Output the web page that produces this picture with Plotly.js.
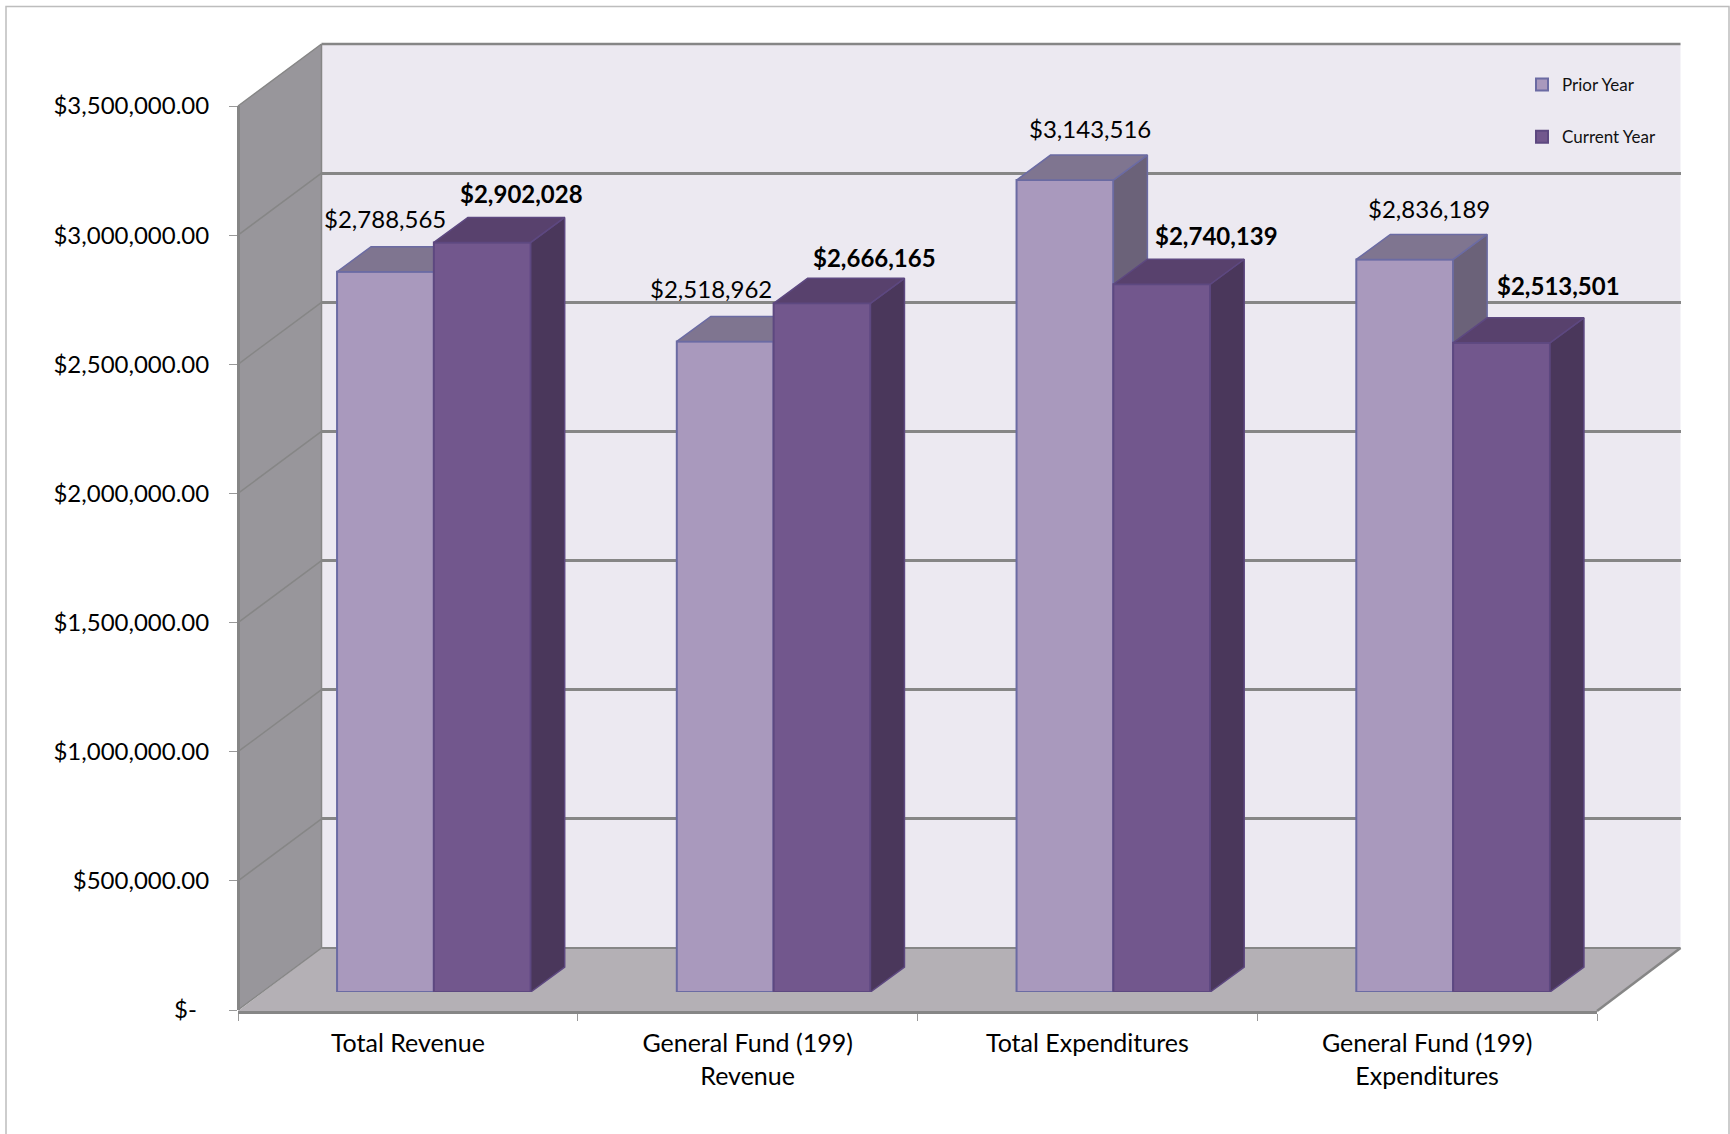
<!DOCTYPE html>
<html>
<head>
<meta charset="utf-8">
<script src="https://cdn.plot.ly/plotly-3.0.1.min.js"></script>
<style>html,body{margin:0;padding:0;background:#fff;overflow:hidden}#chart{width:1730px;height:1134px}</style>
</head>
<body>
<div id="chart"></div>
<script>
// ---- data ----
const categories = ["Total Revenue", "General Fund (199)<br>Revenue", "Total Expenditures", "General Fund (199)<br>Expenditures"];
const priorYear = [2788565, 2518962, 3143516, 2836189];
const currentYear = [2902028, 2666165, 2740139, 2513501];
const seriesNames = ["Prior Year", "Current Year"];
const axisValues = [0, 500000, 1000000, 1500000, 2000000, 2500000, 3000000, 3500000];
const axisLabels = ["$-\u00A0\u00A0", "$500,000.00", "$1,000,000.00", "$1,500,000.00", "$2,000,000.00", "$2,500,000.00", "$3,000,000.00", "$3,500,000.00"];

// ---- label nudges in px (dx, dy above the bar front top) ----
const priorNudgeX = [0, -14.5, 25, 24];
const priorNudgeY = [53, 53, 52, 50.5];
const currentNudgeX = [39, 52, 55, 56.5];
const currentNudgeY = [49, 46, 49, 57];

// ---- page geometry in px ----
const W = 1730, H = 1134;
const fx = p => p / W, fy = p => 1 - p / H;
const YMAX = 3500000;
const FRONT = {l: 238, r: 1597, b: 1010, t: 106};
const DEPTH = {x: 83.5, y: 62};
const BACK = {l: FRONT.l + DEPTH.x, r: FRONT.r + DEPTH.x, b: FRONT.b - DEPTH.y, t: FRONT.t - DEPTH.y};
const BAR = {l: 264, r: 1623, b: 992, t: 88};
const barW = 0.285;                 // category units
const faceDX = 34 / (BAR.r - BAR.l) * 4;   // bar depth in category units
const faceDY = 25 / (BAR.b - BAR.t) * YMAX; // bar depth in value units

const COL = {
  wall: "#98969b", back: "#ece9f1", floor: "#b4b0b5", grid: "#868686", frame: "#bdbdbd", text: "#000000",
  prior: "#a999bd", priorLine: "#6b6ba3", priorTop: "#7f7590", priorSide: "#6b6279",
  cur: "#72578d", curLine: "#5d4880", curTop: "#58416d", curSide: "#4a375b"
};

function dom(a, b) { return [a / W, b / W]; }
function domY(bottom, top) { return [1 - bottom / H, 1 - top / H]; }

function facePolys(values, xLeft) {
  const top = {x: [], y: []}, side = {x: [], y: []};
  values.forEach((v, i) => {
    const l = i + xLeft, r = l + barW;
    top.x.push(l, r, r + faceDX, l + faceDX, l, null);
    top.y.push(v, v, v + faceDY, v + faceDY, v, null);
    side.x.push(r, r + faceDX, r + faceDX, r, r, null);
    side.y.push(0, faceDY, v + faceDY, v, 0, null);
  });
  return {top, side};
}
function faceTrace(poly, color, line, xa, ya) {
  return {type: "scatter", mode: "lines", x: poly.x, y: poly.y, xaxis: xa, yaxis: ya, fill: "toself",
    fillcolor: color, line: {color: line, width: 1.5}, hoverinfo: "skip", showlegend: false};
}
const idx = categories.map((c, i) => i);
const pf = facePolys(priorYear, -barW), cf = facePolys(currentYear, 0);

const traces = [
  // axis carriers: back wall, front axes
  {type: "scatter", mode: "markers", x: [0], y: [0], xaxis: "x", yaxis: "y", marker: {opacity: 0}, hoverinfo: "skip", showlegend: false},
  {type: "scatter", mode: "markers", x: categories, y: categories.map(() => 0), xaxis: "x2", yaxis: "y2", marker: {opacity: 0}, hoverinfo: "skip", showlegend: false},
  // prior year
  {type: "bar", name: seriesNames[0], x: idx, y: priorYear, width: barW, offset: -barW, xaxis: "x3", yaxis: "y3",
    marker: {color: COL.prior, line: {color: COL.priorLine, width: 2}}, legendgroup: "a"},
  faceTrace(pf.side, COL.priorSide, COL.priorLine, "x3", "y3"),
  faceTrace(pf.top, COL.priorTop, COL.priorLine, "x3", "y3"),
  // current year
  {type: "bar", name: seriesNames[1], x: idx, y: currentYear, width: barW, offset: 0, xaxis: "x4", yaxis: "y4",
    marker: {color: COL.cur, line: {color: COL.curLine, width: 2}}, legendgroup: "b"},
  faceTrace(cf.side, COL.curSide, COL.curLine, "x4", "y4"),
  faceTrace(cf.top, COL.curTop, COL.curLine, "x4", "y4")
];

// paper-space decorations: frame, side wall, floor, wall grid
const shapes = [];
function poly(pts, fill, line, w) {
  const path = pts.map((p, i) => (i ? "L" : "M") + fx(p[0]) + "," + fy(p[1])).join(" ") + " Z";
  shapes.push({type: "path", xref: "paper", yref: "paper", layer: "below", path, fillcolor: fill, line: {color: line, width: w}});
}
function seg(a, b, color, w) {
  shapes.push({type: "line", xref: "paper", yref: "paper", layer: "below", x0: fx(a[0]), y0: fy(a[1]), x1: fx(b[0]), y1: fy(b[1]), line: {color, width: w}});
}
shapes.push({type: "rect", xref: "paper", yref: "paper", layer: "below", x0: fx(6), x1: fx(1729), y0: fy(6.5), y1: fy(1140), fillcolor: "#ffffff", line: {color: COL.frame, width: 1.5}});
poly([[BACK.l, BACK.b], [BACK.r, BACK.b], [BACK.r, BACK.t], [BACK.l, BACK.t]], COL.back, COL.back, 0);
poly([[FRONT.l, FRONT.b], [BACK.l, BACK.b], [BACK.l, BACK.t], [FRONT.l, FRONT.t]], COL.wall, COL.wall, 0);
poly([[FRONT.l, FRONT.b + 1], [FRONT.r, FRONT.b + 1], [BACK.r, BACK.b], [BACK.l, BACK.b]], COL.floor, COL.floor, 0);
axisValues.forEach(v => {
  const yf = FRONT.b - (FRONT.b - FRONT.t) * v / YMAX;
  seg([FRONT.l, yf], [BACK.l, yf - DEPTH.y], COL.grid, 1.5);
});
seg([BACK.l, BACK.t], [BACK.l, BACK.b], COL.grid, 1.5);
seg([BACK.l, BACK.t], [BACK.r, BACK.t], COL.grid, 2.5);
seg([BACK.l, BACK.b], [BACK.r, BACK.b], COL.grid, 2);
seg([FRONT.r, FRONT.b + 1], [BACK.r, BACK.b], COL.grid, 2.5);

// data labels
const labelFont = "Lato, Carlito, sans-serif";
const money = v => "$" + v.toLocaleString("en-US");
const annotations = [];
priorYear.forEach((v, i) => annotations.push({xref: "x3", yref: "y3", x: i - barW / 2, y: v, text: money(v), showarrow: false,
  xshift: priorNudgeX[i], yshift: priorNudgeY[i], xanchor: "center", yanchor: "middle", font: {family: labelFont, size: 24, color: COL.text}}));
currentYear.forEach((v, i) => annotations.push({xref: "x4", yref: "y4", x: i + barW / 2, y: v, text: "<b>" + money(v) + "</b>", showarrow: false,
  xshift: currentNudgeX[i], yshift: currentNudgeY[i], xanchor: "center", yanchor: "middle", font: {family: labelFont, size: 24, color: COL.text}}));

const hidden = {visible: false, showgrid: false, zeroline: false, fixedrange: true};
const barX = {...hidden, type: "linear", range: [-0.5, 3.5], domain: dom(BAR.l, BAR.r)};
const barY = {...hidden, type: "linear", range: [0, YMAX], domain: domY(BAR.b, BAR.t)};

const layout = {
  width: W, height: H, margin: {l: 0, r: 0, t: 0, b: 0}, autosize: false,
  paper_bgcolor: "#ffffff", plot_bgcolor: "rgba(0,0,0,0)",
  font: {family: labelFont, size: 24, color: COL.text},
  shapes, annotations, hovermode: false,
  showlegend: true,
  legend: {x: fx(1522), y: fy(67), xanchor: "left", yanchor: "top", bgcolor: "rgba(0,0,0,0)", borderwidth: 0,
    font: {family: labelFont, size: 17, color: "#111"}, tracegroupgap: 27, itemwidth: 30, traceorder: "grouped"},
  // back wall
  xaxis: {domain: dom(BACK.l, BACK.r), range: [0, 1], anchor: "y", showline: false,
    showticklabels: false, ticks: "", showgrid: false, zeroline: false, fixedrange: true},
  yaxis: {domain: domY(BACK.b, BACK.t), range: [0, YMAX], anchor: "x", tickvals: axisValues, showgrid: true, gridcolor: COL.grid, gridwidth: 3,
    showticklabels: false, ticks: "", zeroline: false, showline: false, fixedrange: true},
  // front axes with the labels
  xaxis2: {domain: dom(FRONT.l, FRONT.r), type: "category", categoryorder: "array", categoryarray: categories, range: [-0.5, 3.5], anchor: "free", position: fy(FRONT.b + 2),
    tickson: "boundaries", ticks: "outside", ticklen: 7, tickcolor: "#999999", tickwidth: 1, showline: true, linecolor: COL.grid, linewidth: 3,
    showgrid: false, zeroline: false, tickangle: 0, tickfont: {family: labelFont, size: 25, color: COL.text}, ticklabelstandoff: 8, automargin: false, fixedrange: true},
  yaxis2: {domain: domY(FRONT.b, FRONT.t), range: [0, YMAX], anchor: "free", position: fx(FRONT.l), tickvals: axisValues, ticktext: axisLabels,
    ticks: "outside", ticklen: 8, tickcolor: "#999999", tickwidth: 1, ticklabelstandoff: 15, showline: true, linecolor: COL.grid, linewidth: 2.5,
    showgrid: false, zeroline: false, tickfont: {family: labelFont, size: 24, color: COL.text}, automargin: false, fixedrange: true},
  // bars
  xaxis3: {...barX, anchor: "y3"},
  yaxis3: {...barY, anchor: "x3"},
  xaxis4: {...barX, anchor: "y4", overlaying: "x3"},
  yaxis4: {...barY, anchor: "x4", overlaying: "y3"}
};
Plotly.newPlot("chart", traces, layout, {displayModeBar: false, staticPlot: true});
</script>
</body>
</html>
